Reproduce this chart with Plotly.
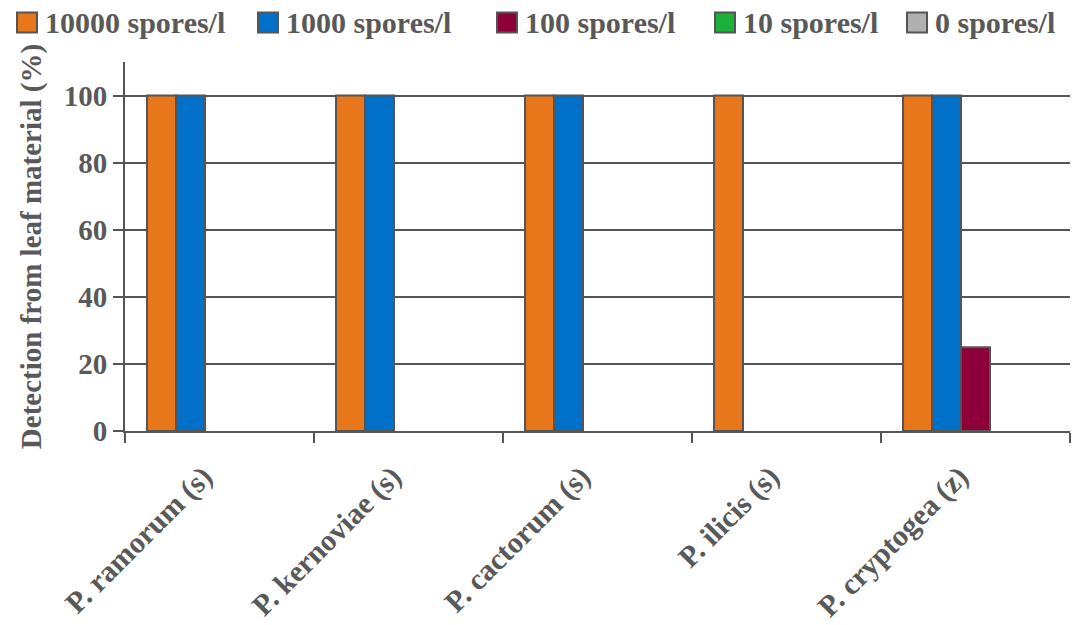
import plotly.graph_objects as go

species = ["P. ramorum (s)", "P. kernoviae (s)", "P. cactorum (s)", "P. ilicis (s)", "P. cryptogea (z)"]
series_names = ["10000 spores/l", "1000 spores/l", "100 spores/l", "10 spores/l", "0 spores/l"]
det_10000 = [100, 100, 100, 100, 100]
det_1000 = [100, 100, 100, 0, 100]
det_100 = [0, 0, 0, 0, 25]
det_10 = [0, 0, 0, 0, 0]
det_0 = [0, 0, 0, 0, 0]
y_ticks = [0, 20, 40, 60, 80, 100]

colors = ["#E8761A", "#0070C8", "#8E0038", "#1CB13A", "#B0B0B0"]
edge = "#555555"
text_col = "#595959"
font_family = "Liberation Serif"

W, H = 1083, 625
L, R, T, B = 125, 13, 62, 194
plot_w = W - L - R
plot_h = H - T - B

fig = go.Figure()
for name, vals, col in zip(series_names, [det_10000, det_1000, det_100, det_10, det_0], colors):
    fig.add_trace(go.Bar(
        x=species, y=vals, name=name, showlegend=False,
        marker=dict(color=col, line=dict(color=edge, width=[2 if v > 0 else 0 for v in vals])),
    ))

# legend row drawn as swatches + labels above the plot
legend_x = [17, 258, 497, 715, 907]
legend_cy = 22.5
sw = 20
shapes, annotations = [], []
for px, name, col in zip(legend_x, series_names, colors):
    shapes.append(dict(
        type="rect", xref="paper", yref="paper",
        x0=(px - L) / plot_w, x1=(px + sw - L) / plot_w,
        y0=(H - B - legend_cy - sw / 2) / plot_h, y1=(H - B - legend_cy + sw / 2) / plot_h,
        fillcolor=col, line=dict(color=edge, width=2),
    ))
    annotations.append(dict(
        text=name, xref="paper", yref="paper", showarrow=False,
        x=(px + sw + 6 - L) / plot_w, xanchor="left",
        y=(H - B - legend_cy) / plot_h, yanchor="middle",
        font=dict(size=30, color=text_col, family=font_family, weight="bold"),
    ))

fig.update_layout(
    width=W, height=H,
    margin=dict(l=L, r=R, t=T, b=B),
    plot_bgcolor="white", paper_bgcolor="white",
    barmode="group", bargap=0.233, bargroupgap=0,
    font=dict(family=font_family, size=28, color=text_col),
    showlegend=False,
    shapes=shapes, annotations=annotations,
)
fig.update_xaxes(
    type="category", tickson="boundaries", ticks="outside", ticklen=10, tickwidth=2,
    tickcolor=edge, showline=True, linecolor=edge, linewidth=2,
    tickangle=-45, tickfont=dict(size=30, weight="bold", color=text_col, family=font_family),
    ticklabelstandoff=14, ticklabelshift=-16,
    showgrid=False, automargin=False,
)
fig.update_yaxes(
    range=[0, 110], tickvals=y_ticks, ticks="outside", ticklen=10, tickwidth=2,
    tickcolor=edge, showline=True, linecolor=edge, linewidth=2,
    showgrid=True, gridcolor=edge, gridwidth=2, zeroline=False, automargin=False,
    tickfont=dict(size=29, weight="bold", color=text_col, family=font_family),
    title=dict(text="Detection from leaf material (%)", standoff=14,
               font=dict(size=29, weight="bold", color=text_col, family=font_family)),
)

fig.write_html("out.html")
